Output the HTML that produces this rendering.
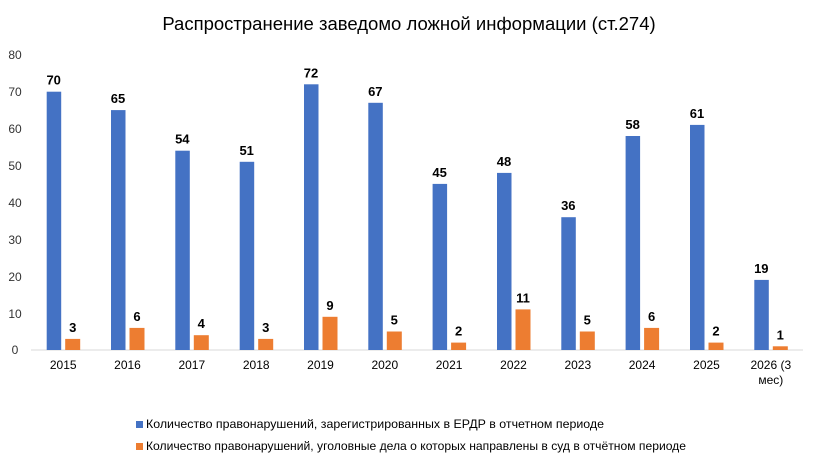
<!DOCTYPE html>
<html><head><meta charset="utf-8"><style>body{margin:0;background:#fff}svg{display:block}</style></head>
<body>
<svg width="818" height="463" xmlns="http://www.w3.org/2000/svg" font-family="Liberation Sans, Arial, sans-serif">
<rect width="818" height="463" fill="#fff"/>
<text x="409" y="30" text-anchor="middle" font-size="18.5" fill="#000">Распространение заведомо ложной информации (ст.274)</text>
<g font-size="12" fill="#333" text-anchor="middle">
<text x="15" y="354">0</text><text x="15" y="318">10</text><text x="15" y="281">20</text><text x="15" y="244">30</text><text x="15" y="207">40</text><text x="15" y="170">50</text><text x="15" y="133">60</text><text x="15" y="96">70</text><text x="15" y="59">80</text>
</g>
<line x1="31" y1="350" x2="803" y2="350" stroke="#d9d9d9" stroke-width="1"/>
<g fill="#4472c4">
<rect x="46.7" y="91.7" width="14.5" height="258.3"/>
<rect x="111" y="110.1" width="14.5" height="239.9"/>
<rect x="175.3" y="150.7" width="14.5" height="199.3"/>
<rect x="239.7" y="161.8" width="14.5" height="188.2"/>
<rect x="304" y="84.3" width="14.5" height="265.7"/>
<rect x="368.3" y="102.8" width="14.5" height="247.2"/>
<rect x="432.6" y="183.9" width="14.5" height="166.1"/>
<rect x="497" y="172.9" width="14.5" height="177.1"/>
<rect x="561.3" y="217.2" width="14.5" height="132.8"/>
<rect x="625.6" y="136" width="14.5" height="214"/>
<rect x="690" y="124.9" width="14.5" height="225.1"/>
<rect x="754.3" y="279.9" width="14.5" height="70.1"/>
</g>
<g fill="#ed7d31">
<rect x="65.2" y="338.9" width="15" height="11.1"/>
<rect x="129.5" y="327.9" width="15" height="22.1"/>
<rect x="193.8" y="335.2" width="15" height="14.8"/>
<rect x="258.2" y="338.9" width="15" height="11.1"/>
<rect x="322.5" y="316.8" width="15" height="33.2"/>
<rect x="386.8" y="331.5" width="15" height="18.5"/>
<rect x="451.1" y="342.6" width="15" height="7.4"/>
<rect x="515.5" y="309.4" width="15" height="40.6"/>
<rect x="579.8" y="331.5" width="15" height="18.5"/>
<rect x="644.1" y="327.9" width="15" height="22.1"/>
<rect x="708.5" y="342.6" width="15" height="7.4"/>
<rect x="772.8" y="346.3" width="15" height="3.7"/>
</g>
<g font-size="13" font-weight="bold" text-anchor="middle" fill="#000">
<text x="53.7" y="84.7">70</text><text x="118" y="103.1">65</text><text x="182.3" y="143.7">54</text><text x="246.7" y="154.8">51</text><text x="311" y="77.3">72</text><text x="375.3" y="95.8">67</text><text x="439.6" y="176.9">45</text><text x="504" y="165.9">48</text><text x="568.3" y="210.2">36</text><text x="632.6" y="129">58</text><text x="697" y="117.9">61</text><text x="761.3" y="272.9">19</text>
<text x="72.7" y="331.9">3</text><text x="137" y="320.9">6</text><text x="201.3" y="328.2">4</text><text x="265.7" y="331.9">3</text><text x="330" y="309.8">9</text><text x="394.3" y="324.5">5</text><text x="458.6" y="335.6">2</text><text x="523" y="302.4">11</text><text x="587.3" y="324.5">5</text><text x="651.6" y="320.9">6</text><text x="716" y="335.6">2</text><text x="780.3" y="339.3">1</text>
</g>
<g font-size="12" text-anchor="middle" fill="#000">
<text x="63.2" y="369">2015</text><text x="127.5" y="369">2016</text><text x="191.8" y="369">2017</text><text x="256.2" y="369">2018</text><text x="320.5" y="369">2019</text><text x="384.8" y="369">2020</text><text x="449.1" y="369">2021</text><text x="513.5" y="369">2022</text><text x="577.8" y="369">2023</text><text x="642.1" y="369">2024</text><text x="706.5" y="369">2025</text><text x="770.8" y="369">2026 (3</text><text x="770.8" y="384">мес)</text>
</g>
<g font-size="12" fill="#000">
<rect x="136" y="421" width="7" height="7" fill="#4472c4"/>
<text x="146" y="428" textLength="458" lengthAdjust="spacingAndGlyphs">Количество правонарушений, зарегистрированных в ЕРДР в отчетном периоде</text>
<rect x="136" y="443" width="7" height="7" fill="#ed7d31"/>
<text x="146" y="450" textLength="540" lengthAdjust="spacingAndGlyphs">Количество правонарушений, уголовные дела о которых направлены в суд в отчётном периоде</text>
</g>
</svg>
</body></html>
